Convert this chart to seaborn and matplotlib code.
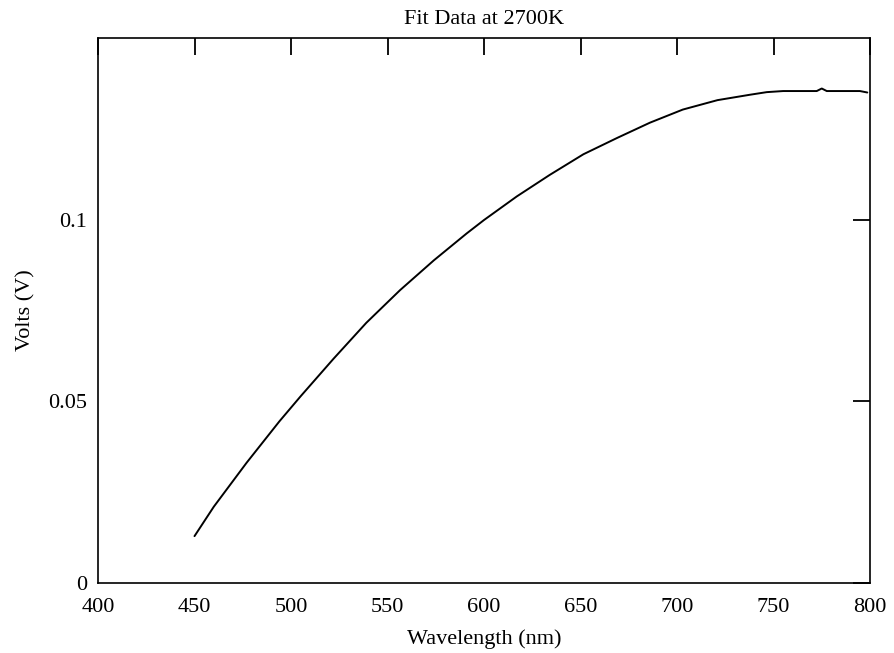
import matplotlib
matplotlib.use('Agg')
import pandas as pd
import seaborn as sns
import matplotlib.pyplot as plt

# values
wavelength = [450.0, 460.0, 477.0, 494.0, 505.0, 522.0, 539.0, 556.5, 574.0, 591.0,
              600.0, 617.0, 634.0, 651.5, 669.0, 686.0, 703.0, 721.0, 738.0, 746.5,
              755.0, 772.4, 775.0, 777.6, 794.8, 798.6]
volts = [0.0129, 0.0210, 0.0331, 0.0445, 0.0514, 0.0617, 0.0716, 0.0806, 0.0888, 0.0962,
         0.0999, 0.1064, 0.1123, 0.1180, 0.1225, 0.1267, 0.1303, 0.1329, 0.1344, 0.1351,
         0.1354, 0.1354, 0.1361, 0.1354, 0.1354, 0.1350]
x_ticks = [400, 450, 500, 550, 600, 650, 700, 750, 800]
y_ticks = [0, 0.05, 0.1]
y_tick_labels = ['0', '0.05', '0.1']

data = pd.DataFrame({'wavelength': wavelength, 'volts': volts})

sns.set_style('white')
plt.rcParams['font.family'] = ['Liberation Serif', 'DejaVu Serif']
plt.rcParams['text.color'] = 'black'
plt.rcParams['axes.labelcolor'] = 'black'

fig = plt.figure(figsize=(8.94, 6.53), dpi=100)
ax = fig.add_axes([98/894, 1 - 583/653, 772/894, 545/653])

sns.lineplot(data=data, x='wavelength', y='volts', color='black', linewidth=1.4, ax=ax)

ax.set_xlim(400, 800)
ax.set_ylim(0, 0.15)
ax.set_xticks(x_ticks)
ax.set_yticks(y_ticks)
ax.set_yticklabels(y_tick_labels)
ax.tick_params(direction='in', length=12, width=1.3, top=True, right=True,
               labelsize=16, colors='black')
ax.tick_params(axis='x', pad=10.5)
ax.tick_params(axis='y', pad=8)
for s in ax.spines.values():
    s.set_color('black')
    s.set_linewidth(1.2)

ax.set_xlabel('Wavelength (nm)', fontsize=16, color='black')
ax.set_ylabel('Volts (V)', fontsize=16, color='black')
ax.xaxis.set_label_coords(0.5, (583 - 639.5) / 545)
ax.xaxis.label.set_va('center')
ax.yaxis.set_label_coords((26 - 98) / 772, 0.5)
ax.yaxis.label.set_va('center')

# title centred over the plot area
fig.text(484/894, 1 - 19/653, 'Fit Data at 2700K',
         ha='center', va='center', fontsize=16, color='black')

fig.savefig('out.png', dpi=100)
